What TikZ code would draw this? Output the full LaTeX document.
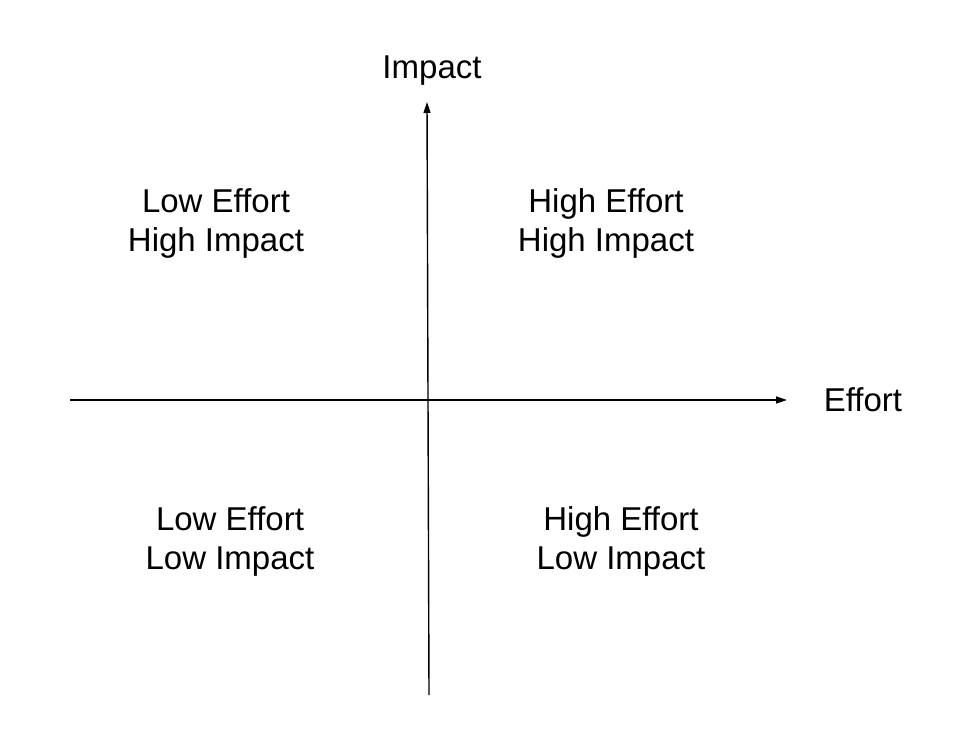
\documentclass[tikz,border=0pt]{standalone}
\usepackage{fontspec}
\setmainfont[Ligatures=NoCommon]{Liberation Sans}
\usetikzlibrary{arrows.meta}
\begin{document}
\begin{tikzpicture}[x=1pt,y=-1pt,
  axis/.style={line width=1.4pt,-{Triangle[length=11pt,width=7pt]}},
  lbl/.style={font=\fontsize{33}{39}\selectfont,inner sep=0pt,anchor=base,align=center}]
\useasboundingbox[fill=white] (0,0) rectangle (974,752);
\coordinate (xl) at (70,400);
\coordinate (xr) at (787,400);
\coordinate (yb) at (429,695);
\coordinate (yt) at (427,102);
\draw[axis] (xl) -- (xr);
\draw[axis] (yb) -- (yt);
\node[lbl] (impact) at (432,78) {Impact};
\node[lbl] (effort) at (863,411) {Effort};
\node[lbl] (tl) at (216,251) {Low Effort\\High Impact};
\node[lbl] (tr) at (606,251) {High Effort\\High Impact};
\node[lbl] (bl) at (230,569) {Low Effort\\Low Impact};
\node[lbl] (br) at (621,569) {High Effort\\Low Impact};
\end{tikzpicture}
\end{document}
